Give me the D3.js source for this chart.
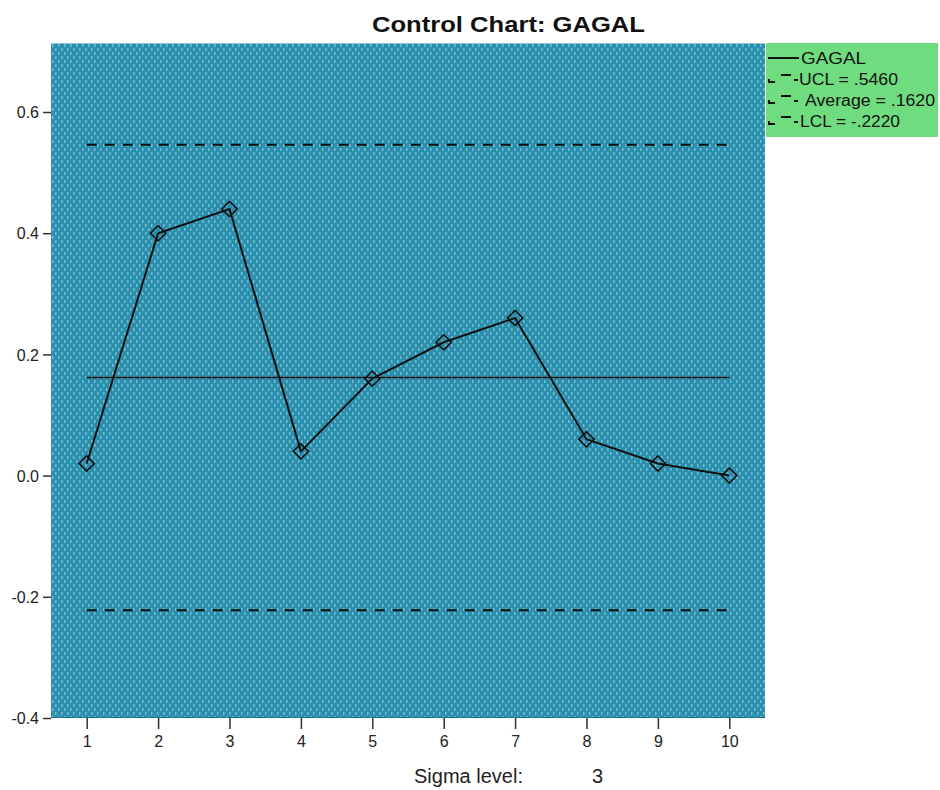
<!DOCTYPE html>
<html><head><meta charset="utf-8">
<script src="https://cdn.jsdelivr.net/npm/d3@7"></script>
<style>body{margin:0;background:#fff;}svg{display:block;font-family:Arial,"Liberation Sans",sans-serif;}</style>
</head><body>
<svg id="c" width="940" height="790"></svg>
<script>
const categories = [1,2,3,4,5,6,7,8,9,10];
const gagal = [0.02,0.40,0.44,0.04,0.16,0.22,0.26,0.06,0.02,0.00];
const ucl = 0.546, average = 0.162, lcl = -0.222;
const yTicks = [-0.4,-0.2,0.0,0.2,0.4,0.6];
const legendLabels = ["GAGAL","UCL = .5460","Average = .1620","LCL = -.2220"];
const sigmaLevel = 3;

const FONT = "Arial,'Liberation Sans',sans-serif";
const svg = d3.select("#c");
const L=51, R=765, T=43, B=718;
const x = d3.scaleLinear().domain([0.5,10.5]).range([L,R]);
const y = d3.scaleLinear().domain([-0.4,0.6]).range([B,112]);

const defs = svg.append("defs");
const pat = defs.append("pattern").attr("id","dots").attr("patternUnits","userSpaceOnUse")
  .attr("width",6).attr("height",8);
pat.append("rect").attr("width",6).attr("height",8).attr("fill","#2a8fac");
pat.append("rect").attr("x",1).attr("y",0).attr("width",1.5).attr("height",3).attr("fill","#74bdd0");
pat.append("rect").attr("x",4).attr("y",4).attr("width",1.5).attr("height",3).attr("fill","#74bdd0");

svg.append("rect").attr("x",L).attr("y",T).attr("width",R-L).attr("height",B-T).attr("fill","url(#dots)");
svg.append("line").attr("x1",L).attr("x2",R).attr("y1",T+0.5).attr("y2",T+0.5).attr("stroke","#8cc9da").attr("stroke-width",1);
svg.append("line").attr("x1",L).attr("x2",R).attr("y1",B-0.5).attr("y2",B-0.5).attr("stroke","#1f6f86").attr("stroke-width",1);

// title
svg.append("text").attr("x",372).attr("y",32)
  .attr("font-size",22).attr("font-weight","bold").attr("fill","#111")
  .attr("textLength",273).attr("lengthAdjust","spacingAndGlyphs").text("Control Chart: GAGAL");

const fmt = d => d3.format(".1f")(d).replace("\u2212","-");

// y axis
const ya = svg.append("g").attr("transform",`translate(${L},0)`)
  .call(d3.axisLeft(y).tickValues(yTicks).tickFormat(fmt).tickSize(8).tickSizeOuter(0));
ya.select(".domain").remove();
ya.selectAll("line").attr("stroke","#333").attr("stroke-width",1.5);
ya.selectAll("text").attr("font-size",16).attr("fill","#222").attr("font-family",FONT).attr("dx","-1").attr("dy","0.35em");

// x axis
const xa = svg.append("g").attr("transform",`translate(0,${B})`)
  .call(d3.axisBottom(x).tickValues(categories).tickFormat(d3.format("d")).tickSize(11).tickSizeOuter(0));
xa.select(".domain").remove();
xa.selectAll("line").attr("stroke","#333").attr("stroke-width",1.5);
xa.selectAll("text").attr("font-size",16).attr("fill","#222").attr("font-family",FONT).attr("y",18).attr("dy","0.71em");

// control lines
const x0 = x(categories[0]), x1 = x(categories[categories.length-1]);
svg.append("line").attr("x1",x0).attr("x2",x1).attr("y1",y(ucl)).attr("y2",y(ucl))
  .attr("stroke","#111").attr("stroke-width",2).attr("stroke-dasharray","10,8");
svg.append("line").attr("x1",x0).attr("x2",x1).attr("y1",y(lcl)).attr("y2",y(lcl))
  .attr("stroke","#111").attr("stroke-width",2).attr("stroke-dasharray","10,8");
svg.append("line").attr("x1",x0).attr("x2",x1).attr("y1",y(average)).attr("y2",y(average))
  .attr("stroke","#111").attr("stroke-width",1.5);

// series
const line = d3.line().x((d,i)=>x(categories[i])).y(d=>y(d));
svg.append("path").datum(gagal).attr("d",line).attr("fill","none").attr("stroke","#111").attr("stroke-width",2);
svg.selectAll(".pt").data(gagal).enter().append("path").attr("class","pt")
  .attr("d",d3.symbol().type(d3.symbolSquare).size(115)())
  .attr("transform",(d,i)=>`translate(${x(categories[i])},${y(d)}) rotate(45)`)
  .attr("fill","none").attr("stroke","#111").attr("stroke-width",1.6);

// legend
const lg = svg.append("g");
lg.append("rect").attr("x",766).attr("y",43).attr("width",172).attr("height",94).attr("fill","#6fdc80");
const legLen = [65, 99, 130, 100];
const legX = [801, 799, 805, 800];
legendLabels.forEach((t,i)=>{
  const yy = 64 + i*21;
  if(i===0){
    lg.append("line").attr("x1",768).attr("x2",799).attr("y1",yy-6).attr("y2",yy-6).attr("stroke","#111").attr("stroke-width",2);
  } else {
    lg.append("line").attr("x1",768).attr("x2",775).attr("y1",yy-3).attr("y2",yy-3).attr("stroke","#111").attr("stroke-width",2);
    lg.append("line").attr("x1",768).attr("x2",770).attr("y1",yy-5).attr("y2",yy-5).attr("stroke","#111").attr("stroke-width",2);
    lg.append("line").attr("x1",781).attr("x2",791).attr("y1",yy-10).attr("y2",yy-10).attr("stroke","#111").attr("stroke-width",2);
    lg.append("line").attr("x1",794).attr("x2",798).attr("y1",yy-5).attr("y2",yy-5).attr("stroke","#111").attr("stroke-width",2);
  }
  lg.append("text").attr("x",legX[i]).attr("y",yy).attr("font-size",16).attr("fill","#111")
    .attr("textLength",legLen[i]).attr("lengthAdjust","spacingAndGlyphs").text(t);
});

// sigma level
svg.append("text").attr("x",414).attr("y",783).attr("font-size",20).attr("fill","#222").text("Sigma level:");
svg.append("text").attr("x",592).attr("y",783).attr("font-size",20).attr("fill","#222").text(sigmaLevel);
</script>
</body></html>
